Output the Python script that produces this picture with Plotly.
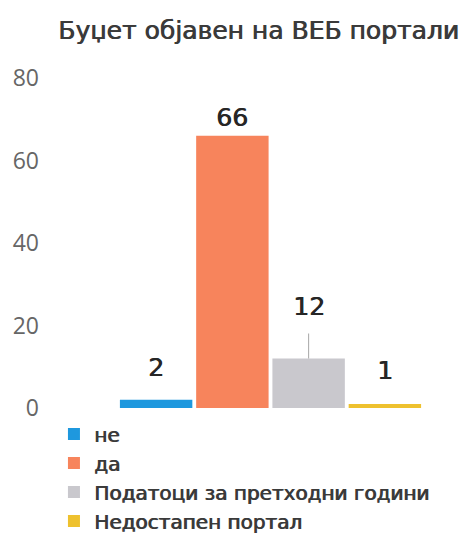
import plotly.graph_objects as go

categories = ["не", "да", "Податоци за претходни години", "Недостапен портал"]
values = [2, 66, 12, 1]
colors = ["#1E98DE", "#F7845C", "#C9C8CD", "#EEC12E"]
y_ticks = [0, 20, 40, 60, 80]

fig = go.Figure()
for cat, val, col in zip(categories, values, colors):
    fig.add_trace(go.Bar(
        x=[cat], y=[val], name=cat,
        marker=dict(color=col, line=dict(width=0)),
        hoverinfo="x+y",
    ))

# data labels, shifted a bit like in the original
label_shift = [32, 18, 52, 33]
label_font = dict(family="DejaVu Sans", size=25, color="#262626",
                  shadow="0.8px 0 0 #262626")
for cat, val, dy in zip(categories, values, label_shift):
    if cat == "Податоци за претходни години":
        fig.add_annotation(
            x=cat, y=val, text=str(val), showarrow=True,
            ax=0, ay=-dy, arrowhead=0, arrowwidth=1, arrowcolor="#A6A6A6",
            startstandoff=11, font=label_font,
        )
    else:
        fig.add_annotation(
            x=cat, y=val, text=str(val), showarrow=False, yshift=dy,
            font=label_font,
        )

fig.update_layout(
    width=473, height=545,
    margin=dict(l=110, r=58, t=70, b=138),
    paper_bgcolor="white", plot_bgcolor="white",
    bargap=0.05,
    title=dict(
        text="Буџет објавен на ВЕБ портали",
        x=50 / 473, xanchor="left", y=1 - 22 / 545, yanchor="middle",
        font=dict(family="DejaVu Sans", size=25, color="#3A3A3A",
                  shadow="0.8px 0 0 #3A3A3A"),
    ),
    xaxis=dict(showticklabels=False, showline=False, showgrid=False, zeroline=False),
    yaxis=dict(
        range=[0, 80], tickvals=y_ticks, showgrid=False, zeroline=False, showline=False,
        ticklabelstandoff=78, automargin=False,
        tickfont=dict(family="Open Sans", size=23, color="#666666"),
    ),
    showlegend=True,
    legend=dict(
        orientation="v", x=-0.21, xanchor="left", y=-0.02, yanchor="top",
        font=dict(family="DejaVu Sans", size=20, color="#3A3A3A",
                  shadow="0.9px 0 0 #3A3A3A"),
        itemwidth=30, tracegroupgap=0,
    ),
)

fig.write_html("out.html")
